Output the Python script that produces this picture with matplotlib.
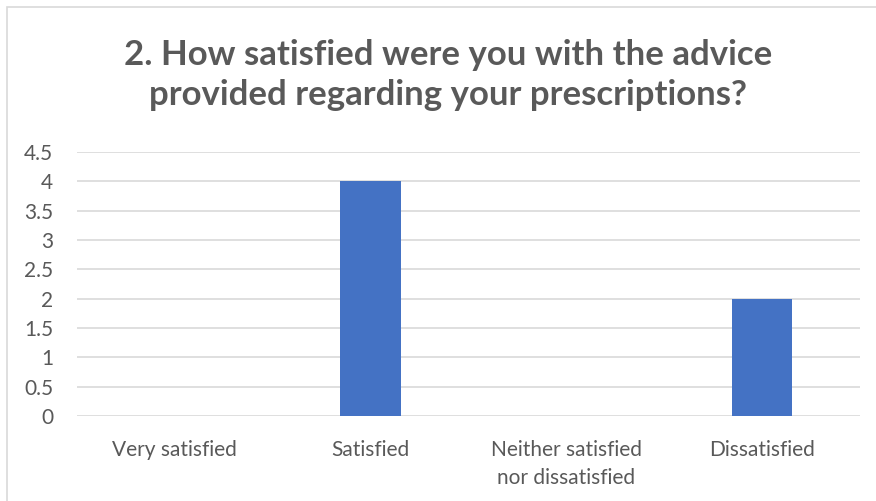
import matplotlib
matplotlib.use("Agg")
import matplotlib.pyplot as plt
from matplotlib.patches import Rectangle

categories = ["Very satisfied", "Satisfied", "Neither satisfied\nnor dissatisfied", "Dissatisfied"]
counts = [0, 4, 0, 2]
yticks = [0, 0.5, 1, 1.5, 2, 2.5, 3, 3.5, 4, 4.5]
ytick_labels = ["0", "0.5", "1", "1.5", "2", "2.5", "3", "3.5", "4", "4.5"]
title = "2. How satisfied were you with the advice\nprovided regarding your prescriptions?"

plt.rcParams['font.family'] = ['Lato', 'DejaVu Sans']
text_col = "#595959"

fig = plt.figure(figsize=(8.76, 5.01), dpi=100)
W, H = 876, 501
ax = fig.add_axes([77 / W, 1 - 416 / H, (860 - 77) / W, (416 - 152) / H])

# chart border (only left and top edges fall inside the picture)
fig.patches.append(Rectangle((7 / W, -0.1), 1.5, 1.1 - 7 / H, transform=fig.transFigure,
                             fill=False, edgecolor="#d9d9d9", linewidth=1.2))

x = range(len(categories))
ax.bar(x, counts, width=0.31, color="#4472c4", zorder=3)
ax.set_xlim(-0.5, len(categories) - 0.5)
ax.set_ylim(0, 4.5)
ax.set_yticks(yticks)
ax.set_yticklabels(ytick_labels)
ax.set_xticks(list(x))
ax.set_xticklabels(categories)
ax.grid(axis="y", color="#d9d9d9", linewidth=1.2, zorder=0)
for s in ax.spines.values():
    s.set_visible(False)
ax.tick_params(axis="both", length=0, labelsize=15, labelcolor=text_col)
ax.tick_params(axis="y", pad=17)
ax.tick_params(axis="x", pad=17)
for lbl in ax.get_xticklabels():
    lbl.set_linespacing(1.5)

fig.text(0.511, 1 - 75 / H, title, ha="center", va="center", fontsize=25,
         fontweight="bold", color=text_col, linespacing=1.3)

fig.savefig("out.png", dpi=100)
